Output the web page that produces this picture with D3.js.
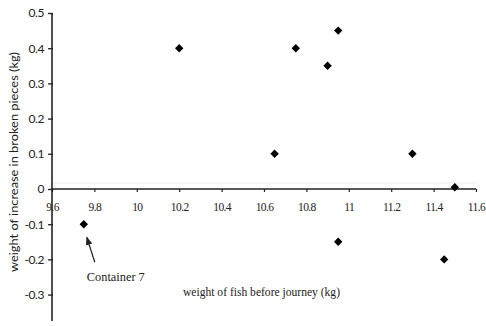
<!DOCTYPE html>
<html><head><meta charset="utf-8">
<script src="https://cdn.jsdelivr.net/npm/d3@7"></script>
<style>body{margin:0;background:#fff}svg{display:block}</style>
</head><body>
<script>
const weightBefore = [9.75, 10.2, 10.65, 10.75, 10.9, 10.95, 10.95, 11.3, 11.45, 11.5];
const increase     = [-0.1, 0.4, 0.1, 0.4, 0.35, 0.45, -0.15, 0.1, -0.2, 0.005];
const xTicks = [9.6, 9.8, 10, 10.2, 10.4, 10.6, 10.8, 11, 11.2, 11.4, 11.6];
const yTicks = [0.5, 0.4, 0.3, 0.2, 0.1, 0, -0.1, -0.2, -0.3];
const xLabel = "weight of fish before journey (kg)";
const yLabel = "weight of increase in broken pieces (kg)";
const note = "Container 7";

const W = 486, H = 326;
const svg = d3.select("body").append("svg").attr("width", W).attr("height", H);
const x = d3.scaleLinear().domain([9.6, 11.6]).range([52, 476]);
const y = d3.scaleLinear().domain([-0.3, 0.5]).range([294.6, 13]);
const serif = "'Liberation Serif', 'DejaVu Serif', serif";
const sans = "Lato, 'Open Sans', sans-serif";
const ink = "#222";

// faint scan line
svg.append("line").attr("x1", 52).attr("x2", 476).attr("y1", y(0) - 6).attr("y2", y(0) - 6)
  .attr("stroke", "#eee").attr("stroke-width", 1);

// y axis
const yAxis = svg.append("g").attr("transform", `translate(${x(9.6)},0)`)
  .call(d3.axisLeft(y).tickValues(yTicks).tickSize(4).tickPadding(4)
    .tickFormat(d => d === 0 ? "0" : String(d)));
yAxis.select(".domain").remove();
yAxis.append("line").attr("x1", 0).attr("x2", 0).attr("y1", y(0.5)).attr("y2", y(-0.375))
  .attr("stroke", ink).attr("stroke-width", 1.6);
yAxis.selectAll(".tick line").attr("stroke", ink).attr("stroke-width", 1.3).attr("x2", -4).attr("x1", 1);
yAxis.selectAll(".tick text").attr("font-family", sans).attr("font-size", 12).attr("fill", ink)
  .attr("letter-spacing", "-0.4px");

// x axis
const xAxis = svg.append("g").attr("transform", `translate(0,${y(0)})`)
  .call(d3.axisBottom(x).tickValues(xTicks).tickSize(3).tickPadding(11).tickFormat(d => String(d)));
xAxis.select(".domain").remove();
xAxis.append("line").attr("x1", x(9.6)).attr("x2", x(11.6)).attr("y1", 0).attr("y2", 0)
  .attr("stroke", ink).attr("stroke-width", 1.6);
xAxis.selectAll(".tick line").attr("stroke", ink).attr("stroke-width", 1.2);
xAxis.selectAll(".tick text").attr("font-family", serif).attr("font-size", 11.5).attr("fill", ink)
  .attr("letter-spacing", "-0.6px");

// points
const diamond = "M0,-4.2L4.2,0L0,4.2L-4.2,0Z";
svg.append("g").selectAll("path").data(weightBefore).join("path")
  .attr("d", diamond)
  .attr("transform", (d, i) => `translate(${x(d)},${y(increase[i])})`)
  .attr("fill", "#000");

// annotation arrow
const defs = svg.append("defs");
defs.append("marker").attr("id", "ah").attr("viewBox", "0 0 10 10").attr("refX", 9).attr("refY", 5)
  .attr("markerWidth", 7).attr("markerHeight", 7).attr("orient", "auto-start-reverse")
  .append("path").attr("d", "M0,1 L10,5 L0,9 z").attr("fill", ink);
svg.append("line").attr("x1", x(9.75) + 11).attr("y1", y(-0.1) + 38)
  .attr("x2", x(9.75) + 3).attr("y2", y(-0.1) + 13)
  .attr("stroke", ink).attr("stroke-width", 1.2).attr("marker-end", "url(#ah)");
svg.append("text").attr("x", x(9.75) + 3).attr("y", y(-0.1) + 57)
  .attr("font-family", serif).attr("font-size", 12.5).attr("fill", ink)
  .attr("textLength", 58).attr("lengthAdjust", "spacingAndGlyphs").text(note);

// axis titles
svg.append("text").attr("x", 183).attr("y", 296)
  .attr("font-family", serif).attr("font-size", 12).attr("fill", ink)
  .attr("textLength", 157).attr("lengthAdjust", "spacingAndGlyphs").text(xLabel);
svg.append("text").attr("transform", `translate(18,272) rotate(-90)`)
  .attr("font-family", sans).attr("font-size", 12).attr("fill", ink)
  .attr("textLength", 220).attr("lengthAdjust", "spacingAndGlyphs").text(yLabel);
</script>
</body></html>
